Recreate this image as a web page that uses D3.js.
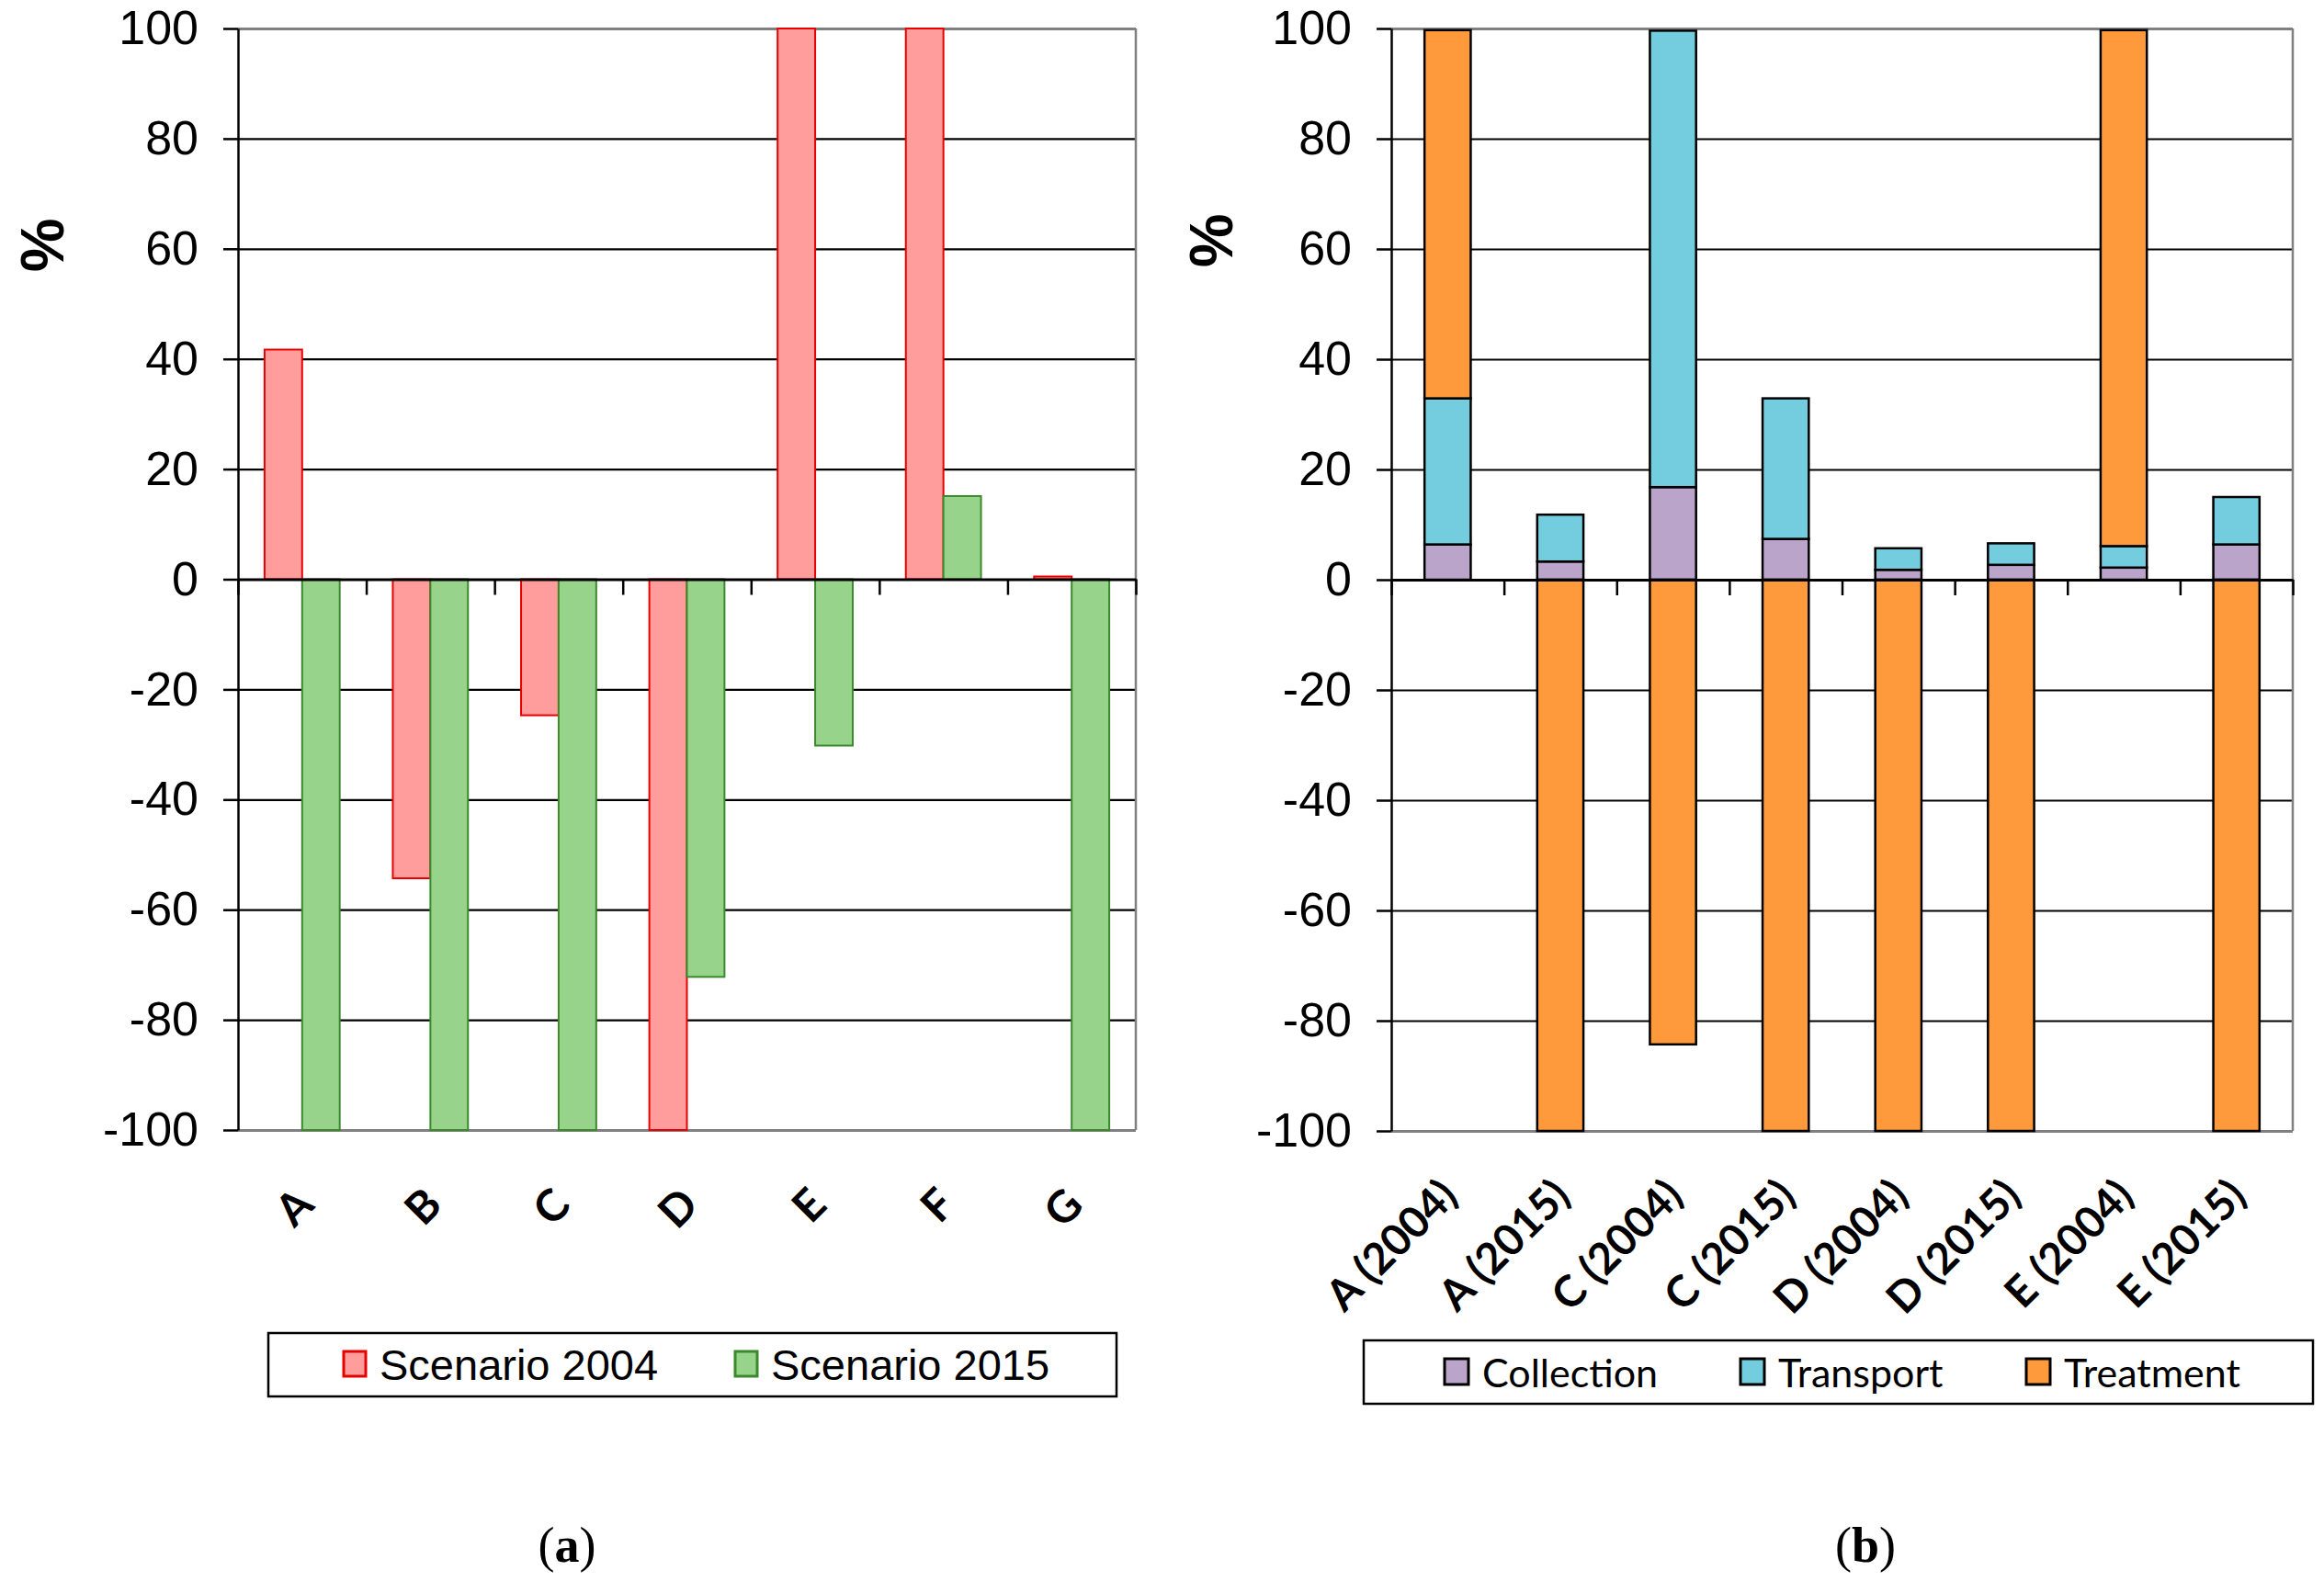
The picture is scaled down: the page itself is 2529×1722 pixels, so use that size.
<!DOCTYPE html>
<html>
<head>
<meta charset="utf-8">
<script src="https://cdn.jsdelivr.net/npm/d3@7"></script>
<style>
  body { margin: 0; background: #fff; }
  svg { display: block; }
</style>
</head>
<body>
<div id="chart"></div>
<script>
// panel (a)
const scenarioCats = ["A", "B", "C", "D", "E", "F", "G"];
const scenarioKeys = ["Scenario 2004", "Scenario 2015"];
const scen2004 = [41.7, -54.3, -24.7, -100, 100, 100, 0.5];
const scen2015 = [-100, -100, -100, -72.2, -30.2, 15.1, -100];

// panel (b)
const stageCats = ["A (2004)", "A (2015)", "C (2004)", "C (2015)", "D (2004)", "D (2015)", "E (2004)", "E (2015)"];
const stageKeys = ["Collection", "Transport", "Treatment"];
const collection = [6.4, 3.3, 16.8, 7.4, 1.8, 2.7, 2.2, 6.4];
const transport = [26.5, 8.5, 82.8, 25.5, 3.9, 3.9, 3.9, 8.6];
const treatment = [66.8, -100, -84.3, -100, -100, -100, 93.6, -100];

const yTicks = [-100, -80, -60, -40, -20, 0, 20, 40, 60, 80, 100];

const W = 2529, H = 1722;
const svg = d3.select("#chart").append("svg")
    .attr("width", W).attr("height", H)
    .style("background", "#fff");

const tickFont = "'Liberation Sans', Arial, sans-serif";
const catFont = "Lato, 'Open Sans', sans-serif";

function drawFrame(g, x0, x1, y, n, yLabelX, yLabelY) {
    // gridlines
    g.append("g")
        .attr("transform", `translate(${x0},0)`)
        .call(d3.axisLeft(y).tickValues(yTicks).tickSize(-(x1 - x0)).tickFormat(""))
        .call(a => a.select(".domain").remove())
        .call(a => a.selectAll("line")
            .attr("stroke", d => (d === 100 || d === -100) ? "#808080" : "#000")
            .attr("stroke-width", d => (d === 100 || d === -100) ? 3 : 2.2));

    // right border of plot area
    g.append("line")
        .attr("x1", x1).attr("x2", x1)
        .attr("y1", y(100)).attr("y2", y(-100))
        .attr("stroke", "#808080").attr("stroke-width", 2.5);

    // y axis
    const ya = g.append("g")
        .attr("transform", `translate(${x0},0)`)
        .call(d3.axisLeft(y).tickValues(yTicks).tickSize(16).tickPadding(27).tickSizeOuter(0)
            .tickFormat(d => String(d)));
    ya.select(".domain").attr("stroke", "#000").attr("stroke-width", 2.5);
    ya.selectAll("line").attr("stroke", "#000").attr("stroke-width", 2.5);
    ya.selectAll("text")
        .attr("font-family", tickFont)
        .attr("font-size", 52)
        .attr("fill", "#000");

    g.append("text")
        .attr("transform", `translate(${yLabelX},${yLabelY}) rotate(-90)`)
        .attr("text-anchor", "middle")
        .attr("dominant-baseline", "central")
        .attr("font-family", tickFont)
        .attr("font-weight", "bold")
        .attr("font-size", 66)
        .text("%");
}

function drawZeroAxis(g, x0, x1, y, n) {
    const xb = d3.scaleLinear().domain([0, n]).range([x0, x1]);
    const xa = g.append("g")
        .attr("transform", `translate(0,${y(0)})`)
        .call(d3.axisBottom(xb).tickValues(d3.range(n + 1)).tickSize(17).tickFormat("").tickSizeOuter(0));
    xa.select(".domain").attr("stroke", "#000").attr("stroke-width", 3);
    xa.selectAll("line").attr("stroke", "#000").attr("stroke-width", 2.5);
}

// ---------- panel (a) ----------
{
    const g = svg.append("g");
    const left = 259, right = 1236, top = 31, bottom = 1230;
    const y = d3.scaleLinear().domain([-100, 100]).range([bottom, top]);
    const x0 = d3.scaleBand().domain(scenarioCats).range([left, right]).padding(0);
    const x1 = d3.scaleBand().domain(scenarioKeys)
        .range([x0.bandwidth() * 0.207, x0.bandwidth() * 0.793]);

    drawFrame(g, left, right, y, scenarioCats.length, 46, 267);

    const rows = scenarioCats.map((c, i) => ({ cat: c, values: [scen2004[i], scen2015[i]] }));
    const fills = ["#FF9D9D", "#98D38B"];
    const strokes = ["#E60000", "#3A8A2C"];

    g.selectAll(".grp")
        .data(rows)
        .enter().append("g")
        .attr("transform", d => `translate(${x0(d.cat)},0)`)
        .selectAll("rect")
        .data(d => d.values.map((v, k) => ({ key: scenarioKeys[k], k: k, v: v })))
        .enter().append("rect")
        .attr("x", d => x1(d.key))
        .attr("width", x1.bandwidth())
        .attr("y", d => y(Math.max(0, d.v)))
        .attr("height", d => Math.abs(y(d.v) - y(0)))
        .attr("fill", d => fills[d.k])
        .attr("stroke", d => strokes[d.k])
        .attr("stroke-width", 2);

    drawZeroAxis(g, left, right, y, scenarioCats.length);

    g.selectAll(".catlab")
        .data(scenarioCats)
        .enter().append("text")
        .attr("transform", d => `translate(${x0(d) + x0.bandwidth() / 2 + 15},1314) rotate(-45)`)
        .attr("text-anchor", "end")
        .attr("font-family", catFont)
        .attr("font-weight", "bold")
        .attr("font-size", 48)
        .text(d => d);

    // legend
    const lg = g.append("g");
    lg.append("rect")
        .attr("x", 292).attr("y", 1451).attr("width", 923).attr("height", 69)
        .attr("fill", "#fff").attr("stroke", "#000").attr("stroke-width", 2.5);
    const lx = [374, 800];
    scenarioKeys.forEach((k, i) => {
        lg.append("rect")
            .attr("x", lx[i]).attr("y", 1471).attr("width", 24).attr("height", 27)
            .attr("fill", fills[i]).attr("stroke", strokes[i]).attr("stroke-width", 3);
        lg.append("text")
            .attr("x", lx[i] + 39).attr("y", 1502)
            .attr("font-family", tickFont)
            .attr("font-size", 47)
            .text(k);
    });

    svg.append("text")
        .attr("x", 617).attr("y", 1700)
        .attr("text-anchor", "middle")
        .attr("font-family", "'Liberation Serif', 'DejaVu Serif', serif")
        .attr("font-size", 54)
        .html("(<tspan font-weight='bold'>a</tspan>)");
}

// ---------- panel (b) ----------
{
    const g = svg.append("g");
    const left = 1514, right = 2495, top = 31, bottom = 1231;
    const y = d3.scaleLinear().domain([-100, 100]).range([bottom, top]);
    const x = d3.scaleBand().domain(stageCats).range([left, right])
        .paddingInner(0.59).paddingOuter(0.295);

    drawFrame(g, left, right, y, stageCats.length, 1318, 262);

    const table = stageCats.map((c, i) => ({
        cat: c,
        Collection: collection[i],
        Transport: transport[i],
        Treatment: treatment[i]
    }));
    const stacked = d3.stack().keys(stageKeys).offset(d3.stackOffsetDiverging)(table);
    const colors = { Collection: "#BBA4CA", Transport: "#73CDDF", Treatment: "#FF9A3C" };

    g.selectAll(".layer")
        .data(stacked)
        .enter().append("g")
        .attr("fill", d => colors[d.key])
        .selectAll("rect")
        .data(d => d)
        .enter().append("rect")
        .attr("x", d => x(d.data.cat))
        .attr("width", x.bandwidth())
        .attr("y", d => y(Math.max(d[0], d[1])))
        .attr("height", d => Math.abs(y(d[0]) - y(d[1])))
        .attr("stroke", "#000")
        .attr("stroke-width", 2.5);

    drawZeroAxis(g, left, right, y, stageCats.length);

    g.selectAll(".catlab")
        .data(stageCats)
        .enter().append("text")
        .attr("transform", d => `translate(${x(d) + x.bandwidth() / 2 + 13},1304) rotate(-45)`)
        .attr("text-anchor", "end")
        .attr("font-family", catFont)
        .attr("font-weight", "bold")
        .attr("font-size", 47)
        .text(d => d);

    // legend
    const lg = g.append("g");
    lg.append("rect")
        .attr("x", 1484).attr("y", 1459).attr("width", 1033).attr("height", 69)
        .attr("fill", "#fff").attr("stroke", "#000").attr("stroke-width", 2.5);
    const lx = [1572, 1894, 2205];
    stageKeys.forEach((k, i) => {
        lg.append("rect")
            .attr("x", lx[i]).attr("y", 1479).attr("width", 26).attr("height", 28)
            .attr("fill", colors[k]).attr("stroke", "#000").attr("stroke-width", 3);
        lg.append("text")
            .attr("x", lx[i] + 41).attr("y", 1510)
            .attr("font-family", catFont)
            .attr("font-size", 43)
            .text(k);
    });

    svg.append("text")
        .attr("x", 2030).attr("y", 1700)
        .attr("text-anchor", "middle")
        .attr("font-family", "'Liberation Serif', 'DejaVu Serif', serif")
        .attr("font-size", 54)
        .html("(<tspan font-weight='bold'>b</tspan>)");
}
</script>
</body>
</html>
